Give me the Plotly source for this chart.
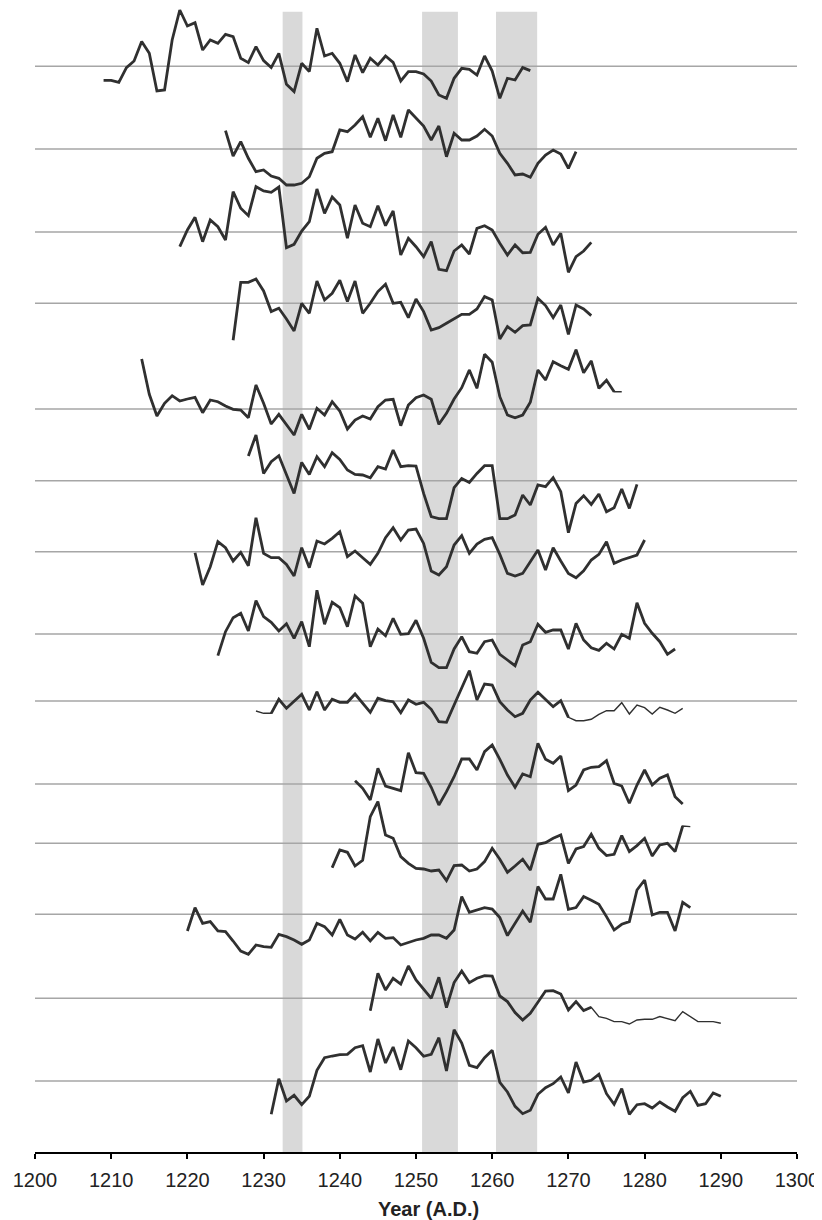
import plotly.graph_objects as go

# ---------------- data (deviations from each series' baseline, first year given) ----------------
start_years = [1209, 1225, 1219, 1226, 1214, 1228, 1221, 1224, 1229, 1242, 1239, 1220, 1244, 1231]

series_01 = [-14, -14, -16, -1.3, 5.3, 24.7, 13, -24.7, -23.7, 26.3, 56.3, 40.3, 43.7, 16.3, 26.3, 23, 32, 29.7, 8, 3.7,
             19.7, 5.7, -1.3, 13, -18, -25.3, 3, -5.3, 38, 10.3, 13, 3, -15.3, 11.3, -6.3, 8, 1.3, 10.3, 4, -14.7,
             -5.3, -5.3, -7.7, -14.7, -28.7, -32, -12, -2, -3, -8.7, 10.3, -4.7, -32, -12, -13.7, -1.3, -4.3]
series_02 = [18.3, -7, 7.3, -9.3, -22.7, -21, -27, -29.3, -36, -36, -34.3, -27.7, -9.3, -4.3, -2.7, 19, 17.3, 24, 32.3, 11.7,
             30.7, 8.3, 34, 11.7, 39, 30.7, 23, 9, 23, -7.7, 15.7, 9, 9, 13, 19.7, 13, -4.3, -14.3, -26, -25,
             -28.3, -14.3, -6, -1, -5, -19.3, -2.7]
series_03 = [-14.7, 2, 14.7, -9.7, 12, 5.3, -8, 40.3, 23.7, 16.3, 45.3, 41, 39.7, 45, -15.7, -12.3, 1, 10.3, 43, 18.7,
             35, 27, -6.3, 27, 8.7, 5.3, 26.3, 6.3, 21, -23, -6.3, -14.7, -24.7, -9.7, -37.3, -38.7, -19, -13, -22, 3.7,
             6.3, 2, -11.3, -23, -13, -20.7, -20.3, -2.3, 4.7, -13, -1.3, -40.3, -24.7, -19, -10.3]
series_04 = [-37, 21, 21, 24.3, 12.3, -8.3, -5, -15.7, -27.7, 0, -10, 22.3, 3.3, 10, 23, 1.7, 22.3, -10, 0, 11.7,
             19, 0, 1, -14.3, 4.3, -8.3, -26.7, -24.3, -20, -15.7, -11, -11, -5.7, 6.7, 3.3, -35.7, -23.3, -29, -22.3, -21.7,
             5, -2.3, -14.3, -1.7, -31, -1.7, -5.7, -12.3]
series_05 = [50, 14.7, -7, 5.7, 13.3, 8, 10, 11.7, -3.7, 9, 7.3, 3, -0.3, -1, -8.7, 24, 5.7, -15, -5.3, -15.3,
             -26, -5.3, -20.3, 0.7, -6, 7.3, -2, -20, -11, -7, -10, 2.3, 9, 9.7, -16.7, 4, 11.3, 14, 9.7, -15.3,
             -4.3, 10, 21.3, 39, 20.7, 54.7, 46.7, 12.3, -6, -8.7, -6, 6.7, 39, 29, 47.3, 43.3, 39.7, 59.3, 36.3, 48,
             20.7, 28.7, 17.3, 17.3]
series_06 = [24.7, 45.7, 7.3, 19, 25, 5.7, -12.7, 18.3, 6.3, 24, 14, 28, 21.3, 10.7, 6.3, 5.7, 3, 14, 11.7, 30.7,
             14, 15, 14.7, -12.7, -36, -38, -38, -7, 2.3, -1.7, 7.3, 15, 15, -38, -38, -34.3, -14.3, -24.3, -4.3, -6,
             3, -11, -52, -22.7, -15, -23.7, -13.3, -31, -27, -8.3, -27.7, -3.7]
series_07 = [-1, -33.3, -15, 10, 4, -9.3, -0.7, -14, 34, -1.7, -6, -6, -12.7, -24.3, 4, -16, 10.7, 7.7, 13.3, 20,
             -5, 0.7, -6, -12.7, -1.7, 14, 24, 11.7, 21.7, 22.7, 8.3, -19.3, -23.3, -15, 6.7, 16, -1.7, 7.7, 12.3, 14,
             -2.7, -21.7, -24.3, -21.7, -10, 1.7, -18.3, 4, -9.3, -21.7, -26, -19, -8.3, -2.7, 10, -11.7, -8.3, -5.7, -3.3, 11.7]
series_08 = [-21.7, 2.3, 16.3, 20.7, 3, 33.3, 17.3, 11.7, 3, 10.3, -4.3, 12.3, -12.7, 43.7, 9.7, 31.7, 26.3, 7.3, 38, 30.7,
             -12.7, 5, -1.7, 15.7, -0.3, 0.3, 13.7, -4.3, -28.3, -33.7, -33.7, -15, -2.7, -17.7, -19.3, -7.7, -6, -20.3, -26, -31.7,
             -11, -7.7, 9.7, 1.7, 4, 4, -15, 10.7, -6, -13.7, -16.3, -9.3, -15, -0.3, -4.3, 31.3, 10.7, 0.7, -7.7, -20.3, -15]
series_09 = [-10, -12.3, -12.3, 1.7, -7.3, -0.7, 6.7, -9, 9.3, -9, 1.7, -1.3, -1.3, 7, -2.3, -11.3, 2.7, 0.3, -0.7, -11.7,
             1, -3.3, -1.3, -8.3, -20.7, -21.3, -4, 12.7, 30.3, 1, 17, 16, -0.7, -9, -15.7, -12.3, 1, 8.7, 1.7, -5.7,
             0.3, -16.3, -19.7, -19.7, -18.3, -13.3, -9.7, -9.7, -1.7, -13, -4, -6.7, -13, -6.3, -9, -12.3, -7.3]
series_10 = [3.3, -4.3, -16, 15.7, -2, -4.3, -6.7, 31.3, 11.3, 10.7, -3.3, -21, -7.7, 7.3, 25, 25, 14, 32.3, 39, 24.7,
             9, -3.3, 10, 7.3, 40.7, 24.7, 20.7, 28, -6.7, -1, 14, 16.7, 17.3, 23.3, 0.7, -2, -19.3, -1, 14, -1,
             5.7, 9, -12.7, -20]
series_11 = [-24.3, -6.7, -9, -22.7, -17, 26.7, 41.7, 8.3, 5, -13.3, -20, -25, -25.7, -27.7, -26.7, -37.3, -22.3, -21.7, -27.7, -25.7,
             -18.3, -5, -16, -29, -22.7, -16, -26.7, -1, 0.7, 5, 8.3, -20, -5.7, -3.3, 9, -5, -12.3, -11, 7.7, -8.3,
             -2.3, 5, -12.7, -1.7, 0, -8.3, 17.3, 16.7]
series_12 = [-16.7, 6.7, -9, -7.3, -16.7, -17.3, -26.7, -36.7, -40, -30.7, -32.3, -33, -20, -22.3, -25.7, -30, -25.7, -9, -12.3, -20.7,
             -5, -20.7, -24.7, -18, -26.7, -18, -24, -23.3, -30.7, -28, -25.7, -24, -20.7, -20.7, -24, -15.7, 17.7, 2, 4.3, 6.7,
             5.3, -3.3, -21.3, -9, 3.3, -8, 27.7, 15.3, 15.3, 40, 5, 6.7, 17.7, 14, 10, -2.3, -15.7, -10, -7.3, 24.3,
             34.3, -0.7, 2, 2, -16.7, 12, 6.7]
series_13 = [-12.3, 25, 8.3, 20, 14.3, 32.3, 18.3, 9, 0, 21, -9.3, 15.7, 27.3, 15.7, 20, 22.7, 22.3, 2.3, -3.3, -14.3,
             -21.7, -15, -3.3, 7.3, 7.7, 4.3, -11.7, -3.3, -12.3, -9, -18.3, -20, -23.3, -23.3, -25.7, -21.7, -21, -21, -18.3, -20.3,
             -22.3, -13.3, -18.3, -23.3, -23.3, -23.3, -25]
series_14 = [-33.3, 2.3, -20, -14.3, -23.7, -15.3, 10.7, 23.3, 25, 26.3, 26.7, 33.3, 35.3, 9, 42, 18, 34, 11.3, 40, 33.3,
             24.7, 26.7, 43.3, 10, 51.3, 38, 15.7, 13.3, 23.3, 30.7, -1.3, -11, -25.3, -32.7, -29.3, -13.3, -6.7, -2.7, 4, -12,
             19, -1, 0.7, 6.7, -12.7, -23.3, -7.7, -33.3, -23.7, -22.7, -27, -21, -26, -30.3, -16.7, -10.3, -24.3, -22.7, -12, -15.3]

all_series = [series_01, series_02, series_03, series_04, series_05, series_06, series_07,
              series_08, series_09, series_10, series_11, series_12, series_13, series_14]

# years drawn with the heavier stroke (rest of a series is drawn thin)
thick_spans = [None, None, None, None, (1214, 1276), None, None,
               None, (1231, 1270), None, (1239, 1285), None, (1244, 1273), None]

# highlighted periods (years)
band_starts = [1232.5, 1250.8, 1260.5]
band_ends = [1235.1, 1255.5, 1265.9]

x_ticks = list(range(1200, 1301, 10))

# ---------------- layout constants (vertical stacking, in page pixels from top) ----------------
baselines = [66.3, 149, 232, 303.3, 409, 480.7, 551.7, 634, 701, 784, 843.3, 914.3, 998.3, 1081]
PAGE_OFFSET = 8          # browser body margin
AXIS_Y = 1152
BAND_TOP = 11.7
LINE_COLOR = "#303030"
BASE_COLOR = "#a6a6a6"
FONT = "Liberation Sans, Arial, sans-serif"

fig = go.Figure()

for x0, x1 in zip(band_starts, band_ends):
    fig.add_shape(type="rect", xref="x", yref="y", x0=x0, x1=x1, y0=-AXIS_Y, y1=-BAND_TOP,
                  fillcolor="#d9d9d9", line_width=0, layer="below")

for b in baselines:
    fig.add_trace(go.Scatter(x=[x_ticks[0], x_ticks[-1]], y=[-b, -b], mode="lines",
                             line=dict(color=BASE_COLOR, width=1.4), hoverinfo="skip", showlegend=False))

for vals, start, b, span in zip(all_series, start_years, baselines, thick_spans):
    yrs = list(range(start, start + len(vals)))
    ys = [-b + v for v in vals]
    if span is None:
        fig.add_trace(go.Scatter(x=yrs, y=ys, mode="lines",
                                 line=dict(color=LINE_COLOR, width=2.8), showlegend=False))
    else:
        fig.add_trace(go.Scatter(x=yrs, y=ys, mode="lines",
                                 line=dict(color=LINE_COLOR, width=1.4), showlegend=False))
        xs2 = [x for x in yrs if span[0] <= x <= span[1]]
        ys2 = [y for x, y in zip(yrs, ys) if span[0] <= x <= span[1]]
        fig.add_trace(go.Scatter(x=xs2, y=ys2, mode="lines",
                                 line=dict(color=LINE_COLOR, width=2.8), showlegend=False))

plot_h = AXIS_Y - PAGE_OFFSET
title_y = -((1209 - PAGE_OFFSET) - plot_h) / plot_h

fig.update_layout(
    width=822 - PAGE_OFFSET, height=1220 - PAGE_OFFSET,
    margin=dict(l=35 - PAGE_OFFSET, r=25, t=0, b=1220 - AXIS_Y, pad=0),
    paper_bgcolor="white", plot_bgcolor="white",
    showlegend=False,
    font=dict(family=FONT, size=20, color="#222222"),
    xaxis=dict(range=[x_ticks[0], x_ticks[-1]], tickvals=x_ticks, ticktext=[str(t) for t in x_ticks],
               showline=True, linecolor="black", linewidth=1.5, ticks="outside", ticklen=5,
               tickwidth=1.5, tickcolor="black", showgrid=False, zeroline=False,
               ticklabelstandoff=4,
               tickfont=dict(family=FONT, size=20, color="#222222")),
    yaxis=dict(range=[-AXIS_Y, -PAGE_OFFSET], visible=False, showgrid=False, zeroline=False),
    annotations=[dict(text="<b>Year (A.D.)</b>", xref="x", yref="paper", x=1251.6, y=title_y,
                      xanchor="center", yanchor="middle", showarrow=False,
                      font=dict(family=FONT, size=20, color="#222222"))],
)

fig.write_html("out.html")
